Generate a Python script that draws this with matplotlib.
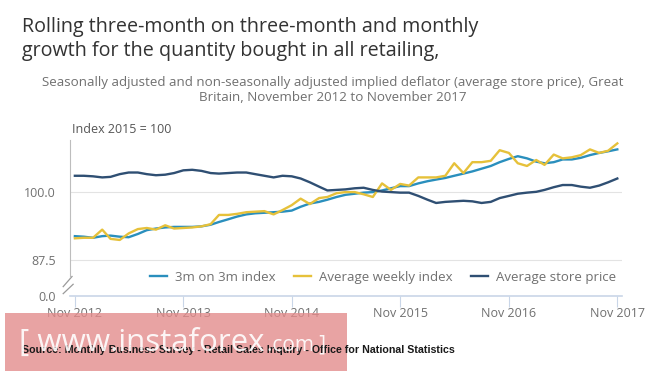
import pandas as pd
import numpy as np
import matplotlib
matplotlib.use("Agg")
import matplotlib.pyplot as plt
import matplotlib.dates as mdates

# monthly values, Nov 2012 .. Nov 2017
months = pd.date_range("2012-11-01", periods=61, freq="MS")

three_m = [91.9, 91.8, 91.6, 91.9, 92.0, 91.8, 91.7, 92.3, 93.0, 93.3,
           93.5, 93.6, 93.6, 93.6, 93.7, 94.0, 94.5, 95.0, 95.5, 95.9,
           96.1, 96.2, 96.3, 96.4, 96.6, 97.3, 97.9, 98.2, 98.6, 99.1,
           99.5, 99.7, 99.9, 100.0, 100.3, 100.7, 101.1, 101.1, 101.6, 102.0,
           102.3, 102.6, 103.0, 103.4, 103.8, 104.3, 104.8, 105.5, 106.1, 106.6,
           106.2, 105.6, 105.3, 105.5, 106.0, 106.0, 106.3, 106.8, 107.2, 107.5,
           107.85]

weekly = [91.5, 91.6, 91.6, 93.1, 91.4, 91.2, 92.4, 93.2, 93.4, 93.1,
          93.9, 93.3, 93.4, 93.5, 93.7, 94.1, 95.8, 95.8, 96.0, 96.3,
          96.4, 96.5, 95.9, 96.7, 97.6, 98.8, 97.8, 98.9, 99.1, 99.8,
          100.0, 100.0, 99.6, 99.1, 101.6, 100.4, 101.5, 101.2, 102.7, 102.7,
          102.7, 103.0, 105.3, 103.5, 105.5, 105.5, 105.75, 107.7, 107.2, 105.3,
          104.8, 105.9, 105.0, 106.9, 106.2, 106.4, 106.8, 107.85, 107.2, 107.6,
          108.95]

store_price = [103.0, 103.0, 102.9, 102.7, 102.8, 103.3, 103.6, 103.6, 103.3, 103.1,
               103.2, 103.5, 104.0, 104.1, 103.9, 103.5, 103.4, 103.5, 103.6, 103.6,
               103.3, 103.0, 102.7, 103.0, 102.9, 102.5, 101.8, 101.0, 100.3, 100.4,
               100.5, 100.7, 100.8, 100.4, 100.1, 100.0, 99.9, 99.9, 99.3, 98.6,
               98.0, 98.2, 98.3, 98.4, 98.3, 98.0, 98.2, 98.9, 99.3, 99.7,
               99.9, 100.05, 100.4, 100.9, 101.3, 101.3, 101.0, 100.8, 101.2, 101.8,
               102.5]

tick_dates = pd.date_range("2012-11-01", periods=6, freq="12MS")
tick_labels = ["Nov 2012", "Nov 2013", "Nov 2014", "Nov 2015", "Nov 2016", "Nov 2017"]

y_bottom = 80.9   # where the broken axis shows "0.0"
y_ticks = [y_bottom, 87.5, 100.0]
y_tick_labels = ["0.0", "87.5", "100.0"]

plt.rcParams["font.family"] = ["Open Sans", "DejaVu Sans"]
grey = "#707070"

fig = plt.figure(figsize=(6.65, 3.74), dpi=100)
ax = fig.add_axes([0.105, 0.2086, 0.83, 0.4174])

ax.plot(months, three_m, color="#2a8fbd", lw=1.7, label="3m on 3m index")
ax.plot(months, weekly, color="#e6c13a", lw=1.7, label="Average weekly index")
ax.plot(months, store_price, color="#2f4f73", lw=1.7, label="Average store price")

ax.set_ylim(y_bottom, 109.6)
ax.set_xlim(months[0] - pd.Timedelta(days=17), months[-1] + pd.Timedelta(days=15))
ax.set_yticks(y_ticks)
ax.set_yticklabels(y_tick_labels)
ax.set_xticks(tick_dates)
ax.set_xticklabels(tick_labels)

for v in y_ticks[1:]:
    ax.axhline(v, color="#e3e3e3", lw=0.8, zorder=0)

for s in ["top", "right"]:
    ax.spines[s].set_visible(False)
ax.spines["left"].set_color("#bdbdbd")
ax.spines["left"].set_bounds(84.4, 109.6)
ax.spines["bottom"].set_color("#c9d6e8")
ax.spines["bottom"].set_linewidth(1.2)

ax.tick_params(axis="y", length=0, labelsize=9, labelcolor=grey, pad=10)
ax.tick_params(axis="x", length=8, color="#c9d6e8", labelsize=9, labelcolor=grey, pad=0)

# break marks on the y axis
kw = dict(transform=ax.transAxes, color="#9a9a9a", lw=0.9, clip_on=False)
ax.plot([-0.012, 0.004], [0.06, 0.125], **kw)
ax.plot([-0.012, 0.006], [0.015, 0.075], **kw)

ax.legend(loc="center", bbox_to_anchor=(0.567, 0.12), ncol=3, frameon=False,
          fontsize=9.5, labelcolor=grey, handlelength=1.3, columnspacing=1.4,
          handletextpad=0.6)

fig.text(0.108, 0.645, "Index 2015 = 100", fontsize=9, color="#555555")

fig.text(0.033, 0.955, "Rolling three-month on three-month and monthly\n"
         "growth for the quantity bought in all retailing,",
         fontsize=14.2, color="#333333", va="top", linespacing=1.3)
fig.text(0.5, 0.797, "Seasonally adjusted and non-seasonally adjusted implied deflator "
         "(average store price), Great\nBritain, November 2012 to November 2017",
         fontsize=9.6, color=grey, ha="center", va="top", linespacing=1.25)

fig.text(0.033, 0.056, "Source: Monthly Business Survey - Retail Sales Inquiry - "
         "Office for National Statistics", fontsize=7.7, fontweight="bold",
         color="#1a1a1a", family="Liberation Sans")

# watermark
wm = plt.Rectangle((5 / 665, 3 / 374), 342 / 665, 58 / 374, transform=fig.transFigure,
                   facecolor="#e38c8c", alpha=0.8, edgecolor="none")
fig.patches.append(wm)
fig.text(0.028, 0.062, "[ www.instaforex", fontsize=22.5, color="white", alpha=0.9)
fig.text(0.402, 0.062, ".com ]", fontsize=15, color="white", alpha=0.9)

fig.savefig("out.png", dpi=100, facecolor="white")
